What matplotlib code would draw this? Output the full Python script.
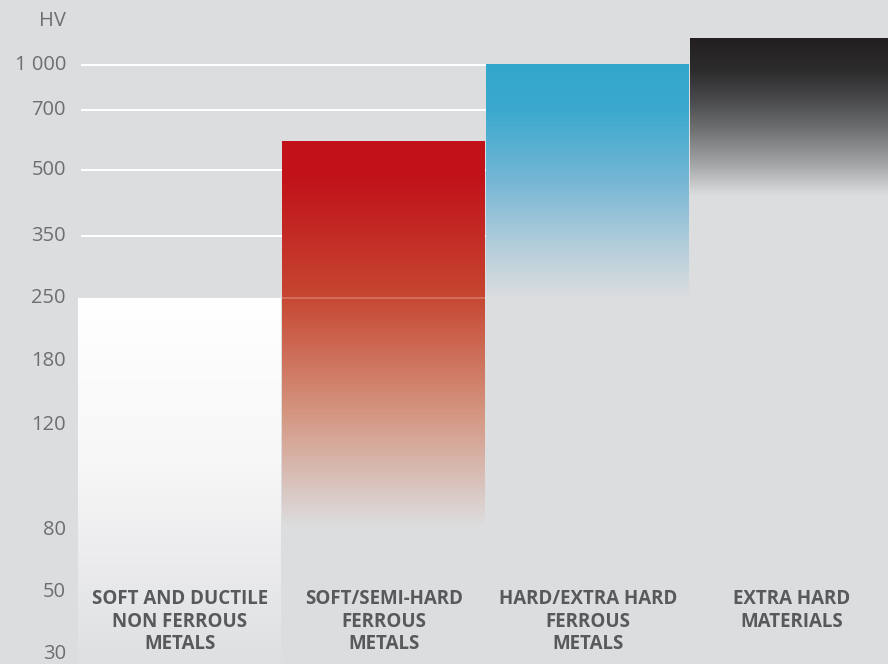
import numpy as np
import matplotlib
matplotlib.use("Agg")
import matplotlib.pyplot as plt
from matplotlib.colors import to_rgba

# Hardness classes (Vickers) with their HV range
categories = ["SOFT AND DUCTILE\nNON FERROUS\nMETALS",
              "SOFT/SEMI-HARD\nFERROUS\nMETALS",
              "HARD/EXTRA HARD\nFERROUS\nMETALS",
              "EXTRA HARD\nMATERIALS"]
hv_low = [26, 82, 250, 440]
hv_high = [250, 600, 1010, 1180]

# Axis ticks and the (non uniform) spacing between them
tick_hv = [30, 50, 80, 120, 180, 250, 350, 500, 700, 1000]
tick_labels = ["30", "50", "80", "120", "180", "250", "350", "500", "700", "1 000"]
tick_gaps = [1.0, 1.0, 1.7, 1.02, 1.03, 1.0, 1.05, 0.98, 0.72]
grid_hv = [350, 500, 700, 1000]

# Gradient stops for each bar: (position from top, colour)
gradients = [
    [(0.0, "#ffffff"), (0.45, "#f7f7f8"), (1.0, "#dedfe1")],
    [(0.0, "#c1121a"), (0.1, "#c1131a"), (0.4, "#c64530"), (0.7, "#d4937d"), (1.0, "#dcdcdd")],
    [(0.0, "#33a6cc"), (0.2, "#3ba9cf"), (0.5, "#75b6d5"), (0.8, "#b8cfdb"), (1.0, "#dbdde0")],
    [(0.0, "#231f20"), (0.2, "#2c2b2c"), (0.4, "#4a4b4d"), (0.6, "#737476"), (0.8, "#a3a4a6"), (1.0, "#dcdddf")],
]

BG = "#dcdddf"
levels = np.concatenate([[0.0], np.cumsum(tick_gaps)])
hv = np.array(tick_hv, dtype=float)


# Piecewise linear scale between the ticks, extended linearly past both ends
def to_level(v):
    v = np.asarray(v, dtype=float)
    out = np.interp(v, hv, levels)
    s0 = (levels[1] - levels[0]) / (hv[1] - hv[0])
    s1 = (levels[-1] - levels[-2]) / (hv[-1] - hv[-2])
    out = np.where(v < hv[0], levels[0] + (v - hv[0]) * s0, out)
    out = np.where(v > hv[-1], levels[-1] + (v - hv[-1]) * s1, out)
    return out


def from_level(l):
    l = np.asarray(l, dtype=float)
    out = np.interp(l, levels, hv)
    s0 = (hv[1] - hv[0]) / (levels[1] - levels[0])
    s1 = (hv[-1] - hv[-2]) / (levels[-1] - levels[-2])
    out = np.where(l < levels[0], hv[0] + (l - levels[0]) * s0, out)
    out = np.where(l > levels[-1], hv[-1] + (l - levels[-1]) * s1, out)
    return out


def gradient_image(lo, hi, stops, n=900):
    vals = np.linspace(lo, hi, n)
    t = (to_level(hi) - to_level(vals)) / (to_level(hi) - to_level(lo))
    pos = [s[0] for s in stops]
    cols = np.array([to_rgba(s[1]) for s in stops])
    img = np.zeros((n, 1, 4))
    for c in range(4):
        img[:, 0, c] = np.interp(t, pos, cols[:, c])
    return img


plt.rcParams["font.family"] = ["Open Sans", "DejaVu Sans"]

fig = plt.figure(figsize=(8.88, 6.64), dpi=100, facecolor=BG)
ax = fig.add_axes([0, 0, 1, 1])
ax.set_facecolor(BG)
ax.set_yscale("function", functions=(to_level, from_level))

# white grid lines behind the bars
ax.hlines(grid_hv, -0.485, 1.5, color="white", lw=1.5, zorder=1)

for i, (lo, hi, stops) in enumerate(zip(hv_low, hv_high, gradients)):
    ax.imshow(gradient_image(lo, hi, stops), origin="lower", aspect="auto",
              extent=[i - 0.5, i + 0.5, lo, hi], zorder=2, interpolation="bilinear")
    ax.text(i, 0.113, categories[i], transform=ax.get_xaxis_transform(),
            ha="center", va="top", fontsize=13.5, fontweight="bold",
            color="#58595b", linespacing=1.18, zorder=5)

# faint trace of the 250 line over the red bar
ax.hlines([250], 0.5, 1.5, color="white", lw=1.2, alpha=0.25, zorder=3)

ax.set_xlim(-0.882, 3.471)
ax.set_ylim(26.8, 1437)
ax.set_yticks(tick_hv, tick_labels)
ax.yaxis.set_minor_locator(matplotlib.ticker.NullLocator())
ax.tick_params(axis="y", length=0, pad=-47.5, labelsize=14.5, labelcolor="#6d6e71")
for lbl in ax.get_yticklabels():
    lbl.set_va("center")
ax.set_xticks([])
for s in ax.spines.values():
    s.set_visible(False)

fig.text(66 / 888, 1 - 21 / 664, "HV", ha="right", va="center",
         fontsize=14.5, color="#6d6e71")

fig.savefig("out.png", dpi=100, facecolor=BG)
